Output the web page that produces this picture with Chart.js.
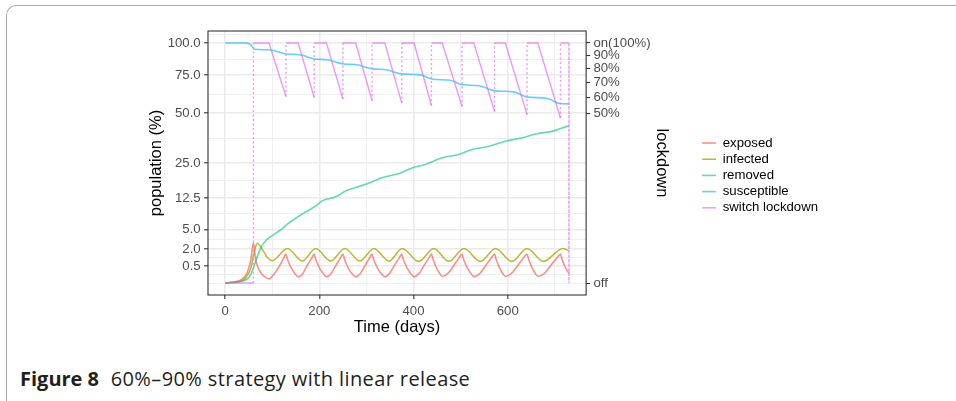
<!DOCTYPE html>
<html>
<head>
<meta charset="utf-8">
<script src="https://cdn.jsdelivr.net/npm/chart.js@4.4.1/dist/chart.umd.min.js"></script>
<style>
  html, body { margin: 0; padding: 0; background: #fff; }
  body { width: 956px; height: 401px; position: relative; overflow: hidden; }
  .frame { position: absolute; left: 6px; top: 5px; width: 1000px; height: 500px;
           border-left: 1.5px solid #aaa; border-top: 1.5px solid #aaa; border-top-left-radius: 10px; }
  #wrap { position: absolute; left: 0; top: 0; width: 828px; height: 337px; }
  .caption { position: absolute; left: 20px; top: 366px; font-family: 'Open Sans', sans-serif;
             font-size: 20px; line-height: 26px; color: #231f20; white-space: nowrap; letter-spacing: 0.4px; }
  .caption b { font-weight: 700; margin-right: 6px; letter-spacing: 0; }
</style>
</head>
<body>
<div class="frame"></div>
<div id="wrap"><canvas id="chart"></canvas></div>
<div class="caption"><b>Figure 8</b> 60%–90% strategy with linear release</div>
<script>
// ticks
const xMajorTicks = [0, 200, 400, 600];
const xMinorTicks = [100, 300, 500, 700];
const yTickValues = [0.5, 2, 5, 12.5, 25, 50, 75, 100];
const yTickLabels = ['0.5', '2.0', '5.0', '12.5', '25.0', '50.0', '75.0', '100.0'];
const yMinorTicks = [0, 0.125, 1.125, 3.33, 8.33, 18.21, 36.43, 61.87, 87.05, 107.2];
const lockTickValues = [0, 50, 60, 70, 80, 90, 100];
const lockTickLabels = ['off', '50%', '60%', '70%', '80%', '90%', 'on(100%)'];

// series (days, % of population)
const exposedDays = [
  0, 10, 20, 30, 40, 47, 54, 60,
  62, 65, 70, 77, 85, 93, 103, 114, 124, 129,
  132, 136, 141, 147, 155, 165, 174, 184, 189,
  192, 196, 201, 207, 215, 225, 235, 245, 250,
  253, 257, 262, 268, 277, 287, 297, 307, 312,
  315, 319, 324, 330, 339, 349, 359, 370, 375,
  378, 382, 387, 393, 401, 412, 422, 433, 438,
  441, 445, 449, 454, 461, 473, 485, 497, 503,
  506, 510, 515, 521, 528, 541, 553, 566, 572,
  575, 579, 583, 588, 595, 608, 621, 634, 641,
  644, 648, 652, 657, 664, 678, 691, 705, 712,
  715, 719, 724, 730];
const exposedValues = [
  0, 0.001, 0.003, 0.01, 0.05, 0.2, 0.85, 2.8,
  1.9, 0.95, 0.4, 0.15, 0.06, 0.03, 0.12, 0.45, 1.05, 1.45,
  1.02, 0.64, 0.36, 0.18, 0.068, 0.16, 0.52, 1.1, 1.45,
  1.02, 0.64, 0.36, 0.18, 0.068, 0.16, 0.52, 1.12, 1.45,
  1.02, 0.64, 0.36, 0.18, 0.068, 0.16, 0.52, 1.12, 1.45,
  1.02, 0.64, 0.36, 0.18, 0.068, 0.16, 0.52, 1.12, 1.45,
  1.02, 0.64, 0.36, 0.18, 0.068, 0.16, 0.52, 1.12, 1.45,
  1.02, 0.64, 0.38, 0.2, 0.075, 0.16, 0.52, 1.12, 1.45,
  1.02, 0.64, 0.36, 0.18, 0.07, 0.16, 0.52, 1.12, 1.45,
  1.02, 0.64, 0.38, 0.2, 0.075, 0.16, 0.52, 1.12, 1.45,
  1.02, 0.64, 0.38, 0.2, 0.075, 0.16, 0.52, 1.12, 1.45,
  1.02, 0.64, 0.36, 0.16];

const infectedDays = [0, 20, 30, 40, 47, 54, 61, 68, 79, 90, 100, 132, 164, 192, 224, 254, 286,
  316, 348, 376, 411, 443, 475, 507, 542, 574, 609, 641, 676, 717, 730];
const infectedValues = [0, 0.001, 0.004, 0.02, 0.1, 0.36, 1.5, 2.75, 1.95, 1.1, 0.86, 2.07, 0.84, 2.07, 0.84, 2.07, 0.84,
  2.07, 0.83, 2.07, 0.81, 2.07, 0.81, 2.07, 0.81, 2.07, 0.81, 2.07, 0.81, 2.07, 1.8];

const removedDays = [0, 30, 40, 50, 55, 60, 65, 69, 76, 86, 93, 100, 114, 121, 132, 157, 192, 206,
  235, 256, 277, 298, 333, 369, 397, 425, 461, 496, 524, 560, 595, 630, 662, 694, 726, 730];
const removedValues = [0, 0.002, 0.01, 0.05, 0.15, 0.4, 0.85, 1.3, 2.2, 3.1, 3.55, 3.9, 4.7, 5.1, 6.0, 7.8, 10.3, 11.7,
  12.9, 14.7, 15.8, 16.9, 19.2, 20.8, 23.0, 24.4, 27.2, 28.7, 30.9, 32.5, 34.9, 36.6, 38.7, 39.9, 42.6, 42.8];

const susceptibleDays = [0, 40, 47, 51, 55, 58, 61, 64, 90, 100, 112, 122, 131, 158, 168, 178, 191,
  218, 228, 238, 252, 280, 290, 300, 314, 342, 352, 362, 377, 410, 420, 430, 440, 478, 488, 496, 505,
  540, 552, 562, 574, 612, 624, 633, 643, 682, 694, 703, 714, 730];
const susceptibleValues = [100, 100, 99.9, 99.4, 98.2, 96.6, 95.2, 94.8, 94.4, 94.0, 92.9, 91.7, 91.1, 90.5, 89.6, 88.2, 87.1,
  86.5, 85.6, 84.3, 83.3, 82.7, 81.8, 80.6, 79.6, 79.0, 78.1, 76.9, 75.9, 75.4, 74.7, 73.3, 72.1, 71.4, 70.2, 69.0, 68.2,
  67.5, 66.3, 65.0, 64.1, 63.4, 62.2, 60.9, 60.0, 59.3, 58.0, 56.6, 55.8, 55.7];

const lockdownDays = [0, 60, 60, 93, 129, 129, 155, 189, 189, 215, 250, 250, 277, 312, 312, 339, 375, 375,
  401, 438, 438, 461, 503, 503, 528, 572, 572, 595, 641, 641, 664, 712, 712, 730, 730];
const lockdownLevels = [0, 0, 100, 100, 60.4, 100, 100, 59.8, 100, 100, 58.7, 100, 100, 57.7, 100, 100, 56.2, 100,
  100, 54.7, 100, 100, 54.1, 100, 100, 51.1, 100, 100, 49.2, 100, 100, 47.3, 100, 100, 0];

// square-root axis, like scale_y_sqrt
const sqrtOf = v => Math.sign(v) * Math.sqrt(Math.abs(v));
class SqrtScale extends Chart.LinearScale {
  static id = 'sqrt';
  getPixelForValue(value) {
    const lo = sqrtOf(this.min), hi = sqrtOf(this.max);
    return this.getPixelForDecimal((sqrtOf(value) - lo) / (hi - lo));
  }
  getValueForPixel(pixel) {
    const lo = sqrtOf(this.min), hi = sqrtOf(this.max);
    const t = lo + this.getDecimalForPixel(pixel) * (hi - lo);
    return Math.sign(t) * t * t;
  }
}
Chart.register(SqrtScale);

const panelBorder = {
  id: 'panelBorder',
  afterDatasetsDraw(chart) {
    const { ctx, chartArea: a } = chart;
    ctx.save();
    ctx.strokeStyle = '#333333';
    ctx.lineWidth = 1.1;
    ctx.strokeRect(a.left, a.top, a.right - a.left, a.bottom - a.top);
    ctx.restore();
  }
};

Chart.defaults.font.family = "'Liberation Sans', Arial, sans-serif";

const pts = (xs, ys) => xs.map((x, i) => ({ x: x, y: ys[i] }));
const series = (label, xs, ys, color, order) => ({
  label: label, data: pts(xs, ys), borderColor: color, backgroundColor: color,
  borderWidth: 1.6, pointRadius: 0, fill: false, cubicInterpolationMode: 'monotone', order: order
});

const yMin = -0.25, yMax = 110.25;
const tickFont = { size: 13.2 };
const titleFont = { size: 16.5 };
const gridFor = minors => ({
  color: '#ebebeb',
  lineWidth: c => (c.tick && minors.includes(c.tick.value) ? 0.8 : 1.6),
  tickColor: c => (c.tick && minors.includes(c.tick.value) ? 'rgba(0,0,0,0)' : '#333333'),
  tickWidth: 1.1,
  tickLength: 4
});

new Chart(document.getElementById('chart'), {
  type: 'line',
  data: {
    datasets: [
      series('exposed', exposedDays, exposedValues, 'rgba(248,118,109,0.8)', 5),
      series('infected', infectedDays, infectedValues, 'rgba(163,165,0,0.75)', 4),
      series('removed', removedDays, removedValues, 'rgba(0,191,125,0.6)', 3),
      series('susceptible', susceptibleDays, susceptibleValues, 'rgba(0,176,246,0.6)', 2),
      {
        label: 'switch lockdown', data: pts(lockdownDays, lockdownLevels),
        borderColor: 'rgba(231,107,243,0.7)', backgroundColor: 'rgba(231,107,243,0.7)',
        borderWidth: 1.4, pointRadius: 0, fill: false, tension: 0, order: 1,
        segment: { borderDash: c => (c.p0.parsed.x === c.p1.parsed.x ? [2, 2.5] : undefined) }
      }
    ]
  },
  options: {
    responsive: true,
    maintainAspectRatio: false,
    animation: false,
    devicePixelRatio: 1,
    layout: { padding: { left: 140, top: 31, right: 0, bottom: 0 } },
    plugins: {
      tooltip: { enabled: false },
      legend: {
        position: 'right',
        align: 'center',
        fullSize: false,
        maxWidth: 300,
        title: { display: true, text: ' ', font: { size: 13.2 }, padding: { top: 4.5, bottom: 4.5 } },
        labels: {
          usePointStyle: true, pointStyle: 'line', pointStyleWidth: 14, padding: 3,
          color: '#000', font: { size: 13.2 },
          sort: (a, b) => a.datasetIndex - b.datasetIndex
        }
      }
    },
    scales: {
      x: {
        type: 'linear', min: -36.5, max: 766.5, bounds: 'data',
        afterBuildTicks: s => { s.ticks = xMajorTicks.concat(xMinorTicks).sort((a, b) => a - b).map(v => ({ value: v })); },
        afterFit: s => { s.height = 42; },
        ticks: {
          autoSkip: false, maxRotation: 0, padding: 4, color: '#4d4d4d', font: tickFont,
          callback: v => (xMajorTicks.includes(v) ? String(v) : '')
        },
        grid: gridFor(xMinorTicks),
        border: { display: false },
        title: { display: true, text: 'Time (days)', color: '#000', font: titleFont, padding: 0 }
      },
      y: {
        type: 'sqrt', position: 'left', min: yMin, max: yMax, bounds: 'data',
        afterBuildTicks: s => { s.ticks = yTickValues.concat(yMinorTicks).sort((a, b) => a - b).map(v => ({ value: v })); },
        afterFit: s => { s.width = 68; },
        ticks: {
          autoSkip: false, padding: 3.3, color: '#4d4d4d', font: tickFont,
          callback: v => { const i = yTickValues.indexOf(v); return i < 0 ? '' : yTickLabels[i]; }
        },
        grid: gridFor(yMinorTicks),
        border: { display: false },
        title: { display: true, text: 'population (%)', color: '#000', font: titleFont, padding: { top: 6.1, bottom: 0 } }
      },
      y2: {
        type: 'sqrt', position: 'right', min: yMin, max: yMax, bounds: 'data',
        afterBuildTicks: s => { s.ticks = lockTickValues.map(v => ({ value: v })); },
        afterFit: s => { s.width = 113; },
        ticks: {
          autoSkip: false, padding: 3.3, color: '#4d4d4d', font: tickFont,
          callback: v => lockTickLabels[lockTickValues.indexOf(v)]
        },
        grid: { drawOnChartArea: false, tickColor: '#333333', tickWidth: 1.1, tickLength: 4 },
        border: { display: false },
        title: { display: true, text: 'lockdown', color: '#000', font: titleFont, padding: { top: 28.1, bottom: 0 } }
      }
    }
  },
  plugins: [panelBorder]
});
</script>
</body>
</html>
